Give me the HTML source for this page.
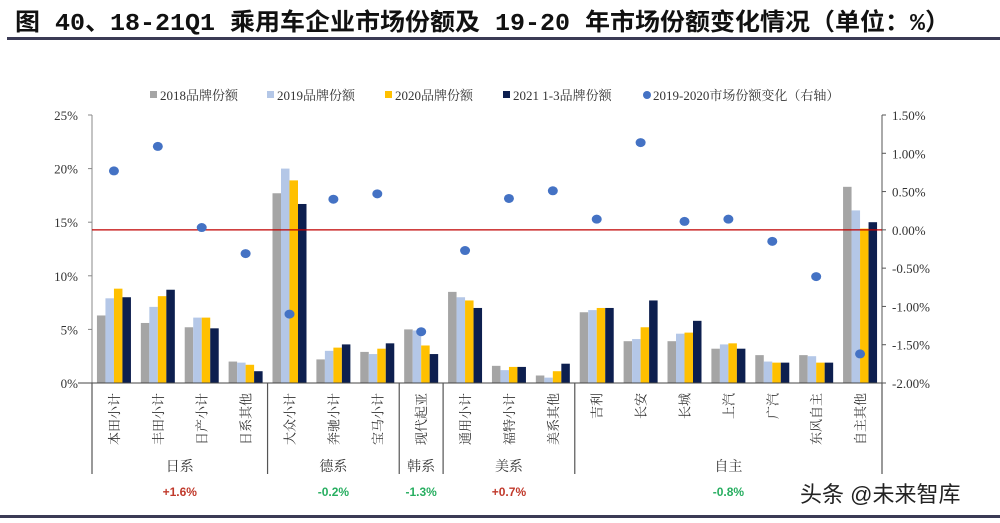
<!DOCTYPE html>
<html><head><meta charset="utf-8"><style>
body{margin:0;background:#fff;}
svg{display:block;font-family:"Liberation Serif","Noto Serif CJK SC",serif;}
</style></head><body>
<svg id="c" width="1000" height="523" viewBox="0 0 1000 523" xmlns="http://www.w3.org/2000/svg">
<text x="15" y="30" font-size="24" font-weight="bold" fill="#111" textLength="935" lengthAdjust="spacingAndGlyphs" font-family="'Liberation Mono','Noto Sans CJK SC',sans-serif">图 40、18-21Q1 乘用车企业市场份额及 19-20 年市场份额变化情况（单位：%）</text>
<rect x="7" y="37" width="993" height="3" fill="#3b3b55"/>
<rect x="0" y="515" width="1000" height="3" fill="#3b3b55"/>
<g id="legend" font-size="13" fill="#333"></g>
<g id="plot"></g>
<text x="800" y="502" font-size="22" fill="#222" font-family="'Liberation Sans','Noto Sans CJK SC',sans-serif">头条 @未来智库</text>
</svg>
<script>
const categories=["本田小计","丰田小计","日产小计","日系其他","大众小计","奔驰小计","宝马小计","现代起亚","通用小计","福特小计","美系其他","吉利","长安","长城","上汽","广汽","东风自主","自主其他"];
const s2018=[6.3,5.6,5.2,2.0,17.7,2.2,2.9,5.0,8.5,1.6,0.7,6.6,3.9,3.9,3.2,2.6,2.6,18.3];
const s2019=[7.9,7.1,6.1,1.9,20.0,3.0,2.7,4.9,8.0,1.2,0.5,6.8,4.1,4.6,3.6,2.0,2.5,16.1];
const s2020=[8.8,8.1,6.1,1.7,18.9,3.3,3.2,3.5,7.7,1.5,1.1,7.0,5.2,4.7,3.7,1.9,1.9,14.4];
const s2021=[8.0,8.7,5.1,1.1,16.7,3.6,3.7,2.7,7.0,1.5,1.8,7.0,7.7,5.8,3.2,1.9,1.9,15.0];
const change=[0.77,1.09,0.03,-0.31,-1.10,0.40,0.47,-1.33,-0.27,0.41,0.51,0.14,1.14,0.11,0.14,-0.15,-0.61,-1.62];
const leftTicks=["0%","5%","10%","15%","20%","25%"];
const rightTicks=["-2.00%","-1.50%","-1.00%","-0.50%","0.00%","0.50%","1.00%","1.50%"];
const groups=["日系","德系","韩系","美系","自主"];
const groupSizes=[4,3,1,3,7];
const groupChange=["+1.6%","-0.2%","-1.3%","+0.7%","-0.8%"];
const seriesNames=["2018品牌份额","2019品牌份额","2020品牌份额","2021 1-3品牌份额","2019-2020市场份额变化（右轴）"];
const colors=["#a5a5a5","#b4c7e7","#ffc000","#0d1f4f","#4472c4"];

const NS="http://www.w3.org/2000/svg";
const X0=92,X1=882,Y0=383,Y1=115;
const cw=(X1-X0)/categories.length;
const yL=v=>Y0-(v/25)*(Y0-Y1);
const yR=v=>Y0-((v+2)/3.5)*(Y0-Y1);
const xC=i=>X0+cw*(i+0.5);
const plot=document.getElementById('plot');
function mk(tag,attrs,parent){const e=document.createElementNS(NS,tag);for(const k in attrs)e.setAttribute(k,attrs[k]);(parent||plot).appendChild(e);return e;}

let e=mk('line',{x1:X0,y1:Y1,x2:X0,y2:Y0,stroke:'#888'});


e=mk('line',{x1:X1,y1:Y1,x2:X1,y2:Y0,stroke:'#555'});


leftTicks.forEach((t,i)=>{const y=yL(i*5);
 const tx=mk('text',{x:X0-14,y:y+5,'font-size':13,'text-anchor':'end',fill:'#333'});tx.textContent=t;
 
 
 mk('line',{x1:X0-4,y1:y,x2:X0,y2:y,stroke:'#888'});});
rightTicks.forEach((t,i)=>{const y=yR(-2+i*0.5);
 const tx=mk('text',{x:X1+10,y:y+5,'font-size':13,fill:'#333'});tx.textContent=t;
 
 
 mk('line',{x1:X1,y1:y,x2:X1+4,y2:y,stroke:'#555'});});

const series=[s2018,s2019,s2020,s2021];
const bw=8.5;
categories.forEach((c,i)=>{
 series.forEach((s,k)=>{
  const x=xC(i)-2*bw+k*bw, y=yL(s[i]);
  const r=mk('rect',{x:x,y:y,width:bw,height:Y0-y,fill:colors[k]});
  
  
 });
 const t=mk('text',{transform:`translate(${xC(i)+5},393) rotate(-90)`,'text-anchor':'end','font-size':13,fill:'#333'});
 t.textContent=c;
 
 
});
e=mk('line',{x1:X0-14,y1:Y0,x2:X1,y2:Y0,stroke:'#444'});


e=mk('line',{x1:X0,y1:yR(0),x2:X1,y2:yR(0),stroke:'#c00000','stroke-width':1.3});


change.forEach((v,i)=>{
 const d=mk('ellipse',{cx:xC(i),cy:yR(v),rx:5,ry:4.5,fill:colors[4]});
 
 
});
let start=0;
const sep=x=>mk('line',{x1:x,y1:Y0,x2:x,y2:474,stroke:'#555','stroke-width':1.2});
sep(X0);
groups.forEach((g,gi)=>{
 const end=start+groupSizes[gi];
 const x=X0+cw*end; sep(x);
 const mid=X0+cw*(start+end)/2;
 const t=mk('text',{x:mid,y:471,'text-anchor':'middle','font-size':14,fill:'#333'});
 t.textContent=g;
 
 
 const p=mk('text',{x:mid,y:496,'text-anchor':'middle','font-size':12,'font-weight':'bold','font-family':'Liberation Sans, sans-serif',fill:groupChange[gi][0]=='+'?'#c0392b':'#27ae60'});
 p.textContent=groupChange[gi];
 
 
 start=end;
});
const lg=document.getElementById('legend');
const lx=[150,267,385,503,643];
seriesNames.forEach((n,i)=>{
 if(i<4){const r=mk('rect',{x:lx[i],y:91,width:7,height:7,fill:colors[i]},lg);}
 else{const r=mk('circle',{cx:lx[i]+4,cy:95,r:4,fill:colors[i]},lg);}
 const t=mk('text',{x:lx[i]+10,y:100},lg);t.textContent=n;
 
 
});
</script>
</body></html>
